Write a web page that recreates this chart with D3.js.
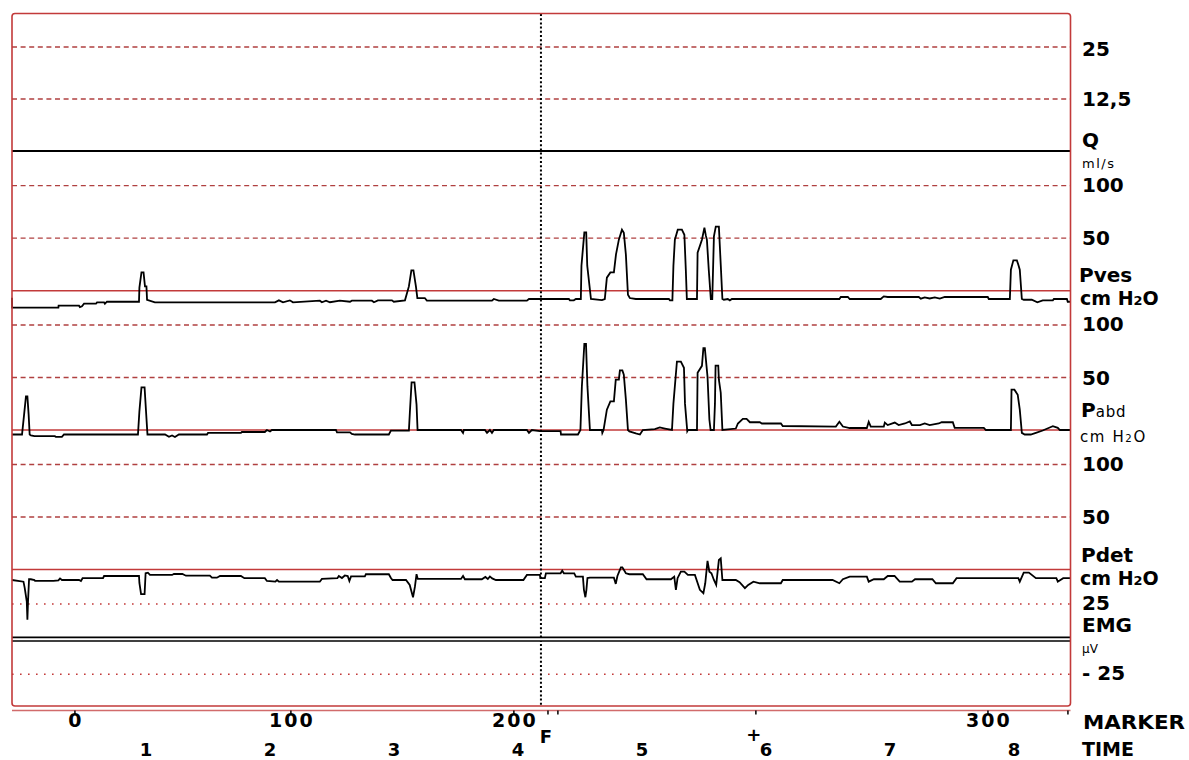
<!DOCTYPE html>
<html>
<head>
<meta charset="utf-8">
<script src="https://cdn.jsdelivr.net/npm/d3@7"></script>
<style>
  body { margin: 0; background: #fff; }
  svg { display: block; }
  text { font-family: "DejaVu Sans", "Liberation Sans", sans-serif; fill: #000; }
</style>
</head>
<body>
<svg id="chart" width="1189" height="760"></svg>
<script>
// ---- recorded traces: [time in s, value] ----
// Q (ml/s): no flow during the whole recording
const qTrace = [[-4.35, 0], [507.6, 0]];

// Pves (cm H2O)
const pvesTrace = [[-4.35,-6.7],[-4.3,-16.2],[18.1,-16.2],[18.2,-14.3],[28.1,-14.3],[28.5,-15.7],[29.5,-14.8],[30.5,-12.4],[36.3,-12.4],[36.8,-11.1],[40.2,-11.1],[40.6,-12.4],[41.6,-10.5],[57.1,-10.5],[57.3,2.9],[58.3,17.4],[59.3,17.4],[60.0,4.1],[60.7,4.1],[61.0,-8.6],[64.8,-11.1],[122.9,-11.1],[124.8,-9.2],[126.8,-11.1],[130.1,-9.2],[131.6,-11.1],[144.6,-9.5],[145.6,-11],[147.6,-9.5],[149.5,-11],[154.3,-9.5],[159.2,-10.5],[160.1,-9.5],[169.8,-9.5],[170.8,-11],[172.7,-9.2],[179.5,-9.2],[180.4,-10.5],[185.8,-9.2],[187.7,4.1],[188.9,19.3],[189.9,19.3],[191.1,4.1],[191.8,-7],[195.4,-7],[196.4,-9.5],[227.9,-9.5],[228.8,-7.9],[231.2,-9.5],[244.8,-9.5],[245.8,-7.9],[265.1,-7.9],[265.6,-9.2],[267.5,-9.2],[268.5,-7.9],[270.9,-7.9],[271.2,23.8],[272.6,55.5],[273.5,55.5],[274.0,23.8],[275.8,-7.9],[281.1,-9],[282.5,-7.9],[283.5,12.4],[285.2,17.4],[286.9,17.4],[287.9,34.3],[289.3,48.6],[290.8,58.1],[291.7,55.2],[292.7,34.3],[293.7,-3.8],[294.6,-7],[297.5,-7.9],[313.5,-7.9],[314,-9.2],[315.2,-9.2],[315.7,23.8],[316.4,48.6],[317.8,58.1],[319.8,58.1],[321.0,53.3],[321.7,20],[322.2,-7.9],[327.1,-7.9],[327.4,36.2],[329.5,48.6],[330.7,60],[331.4,52.4],[331.9,48.6],[332.8,20],[333.8,-7.9],[334.5,-7.9],[335.3,51.7],[336.2,61],[337.7,61],[338.6,24.8],[339.4,-7.9],[340.1,-8.6],[342.0,-7.9],[343.0,-9.2],[344.0,-7.9],[396.0,-7.9],[396.7,-6],[400.1,-6],[401.0,-7.9],[416.0,-7.9],[417.5,-5.4],[419.4,-6],[434.4,-6],[435.4,-7.6],[437.3,-6.3],[439.7,-7.4],[442.2,-6.3],[444.6,-7.6],[447.0,-6],[467.8,-6],[468.3,-7.9],[478.5,-7.9],[479.0,20],[480.2,28.9],[481.9,28.9],[482.6,24.8],[483.3,20],[484.3,-7.9],[485.2,-8.6],[489.1,-8.6],[491.8,-11.1],[494.4,-9.2],[499.3,-9.2],[499.8,-7.9],[506.1,-7.9],[506.5,-10.5],[507.6,-10.5]];

// Pabd (cm H2O)
const pabdTrace = [[-4.35,-4.3],[0.5,-4.3],[1.5,14.7],[2.4,32],[3.1,32],[3.7,14.7],[4.2,-4.3],[4.8,-5.2],[6.5,-5.9],[16.4,-5.9],[16.9,-6.6],[19.8,-6.6],[20.8,-4.3],[56.6,-4.3],[57.3,17.8],[58.3,40.6],[59.8,40.6],[60.5,17.8],[61.2,-4.3],[69.7,-4.3],[71.6,-6.4],[73.1,-5.2],[74.5,-6.6],[76.4,-4.3],[90.0,-4.3],[90.5,-2.8],[106.4,-2.8],[106.9,-1.9],[118.0,-1.9],[119.0,0],[120.5,-1.4],[121.4,0],[152.4,0],[152.9,-2.2],[159.2,-2.2],[160.1,-3.8],[161.6,-4.3],[178.0,-4.3],[179.0,-0.5],[187.7,-0.5],[188.2,17.8],[189.0,45.3],[190.4,45.3],[191.4,24.2],[191.9,0],[212.9,0],[213.9,-2.8],[214.3,0],[224.5,0],[225.5,-2.8],[226.9,0],[227.9,-2.8],[228.8,0],[244.8,0],[245.8,-2.8],[247.2,0],[251.1,-1.1],[261.1,-1.1],[261.3,-4.3],[269.5,-4.3],[270.7,0],[271.4,41.5],[272.6,82],[273.4,82],[274.1,41.5],[275.3,0],[281.1,0],[281.3,-2.8],[281.9,0],[283.5,19.4],[285.2,27.3],[286.9,27.3],[287.8,47.9],[289.3,47.9],[289.8,56.7],[291.0,56.7],[291.7,52.6],[292.7,28.9],[293.7,0],[294.4,-1.4],[297.5,-3.3],[299.5,-4.3],[300.9,0],[306.7,0.9],[309.1,2.4],[311.6,1.4],[315,0],[315.7,25.1],[317.4,65.2],[319.3,65.2],[320.8,59.2],[321.3,25.1],[322.4,-1.1],[322.7,0],[327.1,0],[327.4,54.5],[329.5,61.1],[330.2,77.9],[330.9,77.9],[332.2,50.7],[333.1,10],[333.7,0],[335.3,0],[335.8,25.1],[336.1,61.4],[337.4,61.4],[337.7,47.9],[338.6,35.5],[339.4,0],[345.9,1.4],[346.9,6.2],[349.3,10.6],[351.1,10.6],[352.7,7.4],[357.5,7.4],[358.5,6.2],[367.7,6.2],[368.6,3.8],[394.3,3.3],[396.0,7.8],[397.7,3.3],[401.0,1.9],[409.3,1.9],[410.2,7.8],[411.2,3.3],[417.5,3.3],[418.0,7.1],[419.4,4.7],[422.8,7.1],[424.7,4.7],[427.7,6.2],[430.1,8.1],[431.1,4.7],[435.0,4.7],[437.3,6.2],[439.7,4.7],[444.1,6.2],[445.5,7.4],[450.9,7.4],[451.8,2.1],[465.9,2.1],[466.9,0],[479.0,0],[479.3,38.4],[480.7,38.4],[482.3,33.6],[483.3,19.4],[484.3,-2.7],[485.7,-4.3],[488.6,-4.3],[491.1,-2.7],[494.4,-0.5],[497.8,2.4],[499.3,3.6],[501.7,2.1],[502.7,0],[507.6,0]];

// Pdet (cm H2O)
const pdetTrace = [[-4.35,-10],[1.2,-11.6],[1.8,-17.5],[2.8,-30.5],[3.1,-47.9],[3.4,-30.5],[3.9,-9.3],[4.8,-9.3],[6.5,-10],[6.8,-10.9],[15.7,-10.9],[18.1,-10.4],[18.9,-8.5],[19.8,-10],[28.1,-10],[29.0,-10.9],[29.8,-8.3],[39.7,-8.3],[40.2,-6.2],[57.1,-6.2],[57.3,-12.8],[58.1,-23.5],[59.8,-23.5],[60.3,-3.6],[61.4,-3],[62.4,-5.2],[73.1,-5.2],[74.0,-4.3],[78.1,-4.3],[79.8,-5.9],[91.4,-5.9],[92.4,-7.8],[94.8,-7.8],[96.3,-6.2],[106.4,-6.2],[108.1,-8.3],[118.0,-8.3],[119.0,-10.9],[123.1,-11.6],[123.9,-10],[124.8,-11.6],[144.6,-11.6],[145.6,-9],[153.1,-8.3],[153.8,-6.2],[155.3,-8.1],[156.7,-5.7],[158.1,-6.2],[158.9,-10.9],[159.7,-6.6],[166.4,-6.6],[166.9,-4.5],[178.0,-4.5],[179.0,-8.1],[179.8,-10],[186.3,-10],[188.1,-14.7],[189.7,-26.4],[190.6,-16.6],[191.4,-4.5],[192.0,-9],[212.9,-9],[213.9,-6.2],[214.8,-9.3],[223.0,-9.3],[224.7,-7.1],[225.9,-9],[226.9,-6.6],[228.0,-8.5],[229.8,-10],[243.1,-10],[244.8,-5.2],[251.1,-5.2],[251.3,-8.3],[253.5,-8.3],[254.0,-3.6],[261.1,-3.6],[261.9,-1.1],[262.7,-3.6],[267.7,-3.6],[268.5,-6.8],[271.9,-6.8],[272.4,-19.4],[273.1,-26.4],[273.6,-19.4],[274.1,-8.1],[275.3,-7.8],[286.9,-7.8],[287.8,-13.7],[288.6,-6.2],[290.3,2.1],[291.0,2.1],[292.7,-3.6],[294.4,-4.5],[300.9,-4.5],[302.7,-9.3],[314.5,-9.3],[316.1,-6.8],[316.9,-19.4],[317.7,-8.3],[319.3,-2.1],[321.0,-2.1],[322.7,-5.2],[326.1,-5.2],[328.5,-19.4],[330.2,-22.6],[331.1,-13.1],[332.2,8.3],[333.1,-2.1],[334.1,-3.6],[335.3,-10],[336.4,-14.7],[337.7,9],[338.6,10.6],[339.4,-10],[345.9,-10],[347.7,-12.1],[350.3,-17.8],[351.9,-14.7],[354.4,-11.6],[357.5,-13.1],[367.7,-13.1],[368.6,-10],[392.7,-10],[396.0,-13.1],[397.7,-9.3],[401.0,-6.8],[409.3,-6.8],[410.2,-11.6],[412.7,-9.3],[417.5,-9.3],[419.4,-6.2],[422.7,-6.2],[425.2,-11.6],[431.1,-11.6],[432.6,-9.3],[441.0,-9.3],[442.7,-13.1],[450.9,-13.1],[452.7,-8.3],[482.6,-8.3],[483.3,-11.6],[485.2,-3],[487.7,-3],[491.1,-8.3],[501.0,-8.3],[501.7,-11.6],[504.3,-8.3],[507.6,-8.3]];

// EMG (µV): flat signal
const emgTrace = [[-4.35, 0], [507.6, 0]];

// ---- axis labels ----
const qTickValues = [25, 12.5];
const qTickLabels = ["25", "12,5"];
const pressureTickValues = [100, 50];
const pressureTickLabels = ["100", "50"];
const emgTickValues = [25, -25];
const emgTickLabels = ["25", "- 25"];

// filled volume (ml) at the time it was reached
const markerVolumes = ["0", "100", "200", "300"];
const markerVolumeTimes = [26.1, 130.6, 238.5, 467.9];
// event markers
const eventLabels = ["F", "+"];
const eventTimes = [255.0, 355.6];
const extraMarkTimes = [259.8, 506.6];
// filling stopped
const cursorTime = [251.6];
// time axis (minutes)
const timeMinutes = [1, 2, 3, 4, 5, 6, 7, 8];

// ---- drawing ----
const svg = d3.select("#chart");
const RED = "#c23a3a";
const GRID = "#b04040";

const x = d3.scaleLinear().domain([-4.35, 507.6]).range([12, 1070]);
const yQ    = d3.scaleLinear().domain([0, 25]).range([151, 47]);
const yPves = d3.scaleLinear().domain([0, 100]).range([290.7, 185.7]);
const yPabd = d3.scaleLinear().domain([0, 100]).range([430, 325]);
const yPdet = d3.scaleLinear().domain([0, 100]).range([569.5, 464.5]);
const yEmg  = d3.scaleLinear().domain([-25, 25]).range([674.3, 604]);

const x0 = x.range()[0], x1 = x.range()[1];

function hline(y, stroke, width, dash) {
  const l = svg.append("line")
    .attr("x1", x0).attr("x2", x1).attr("y1", y).attr("y2", y)
    .attr("stroke", stroke).attr("stroke-width", width);
  if (dash) l.attr("stroke-dasharray", dash);
  return l;
}

// dashed scale lines
qTickValues.forEach(v => hline(yQ(v), GRID, 1.3, "5,3.6"));
[yPves, yPabd, yPdet].forEach(s => pressureTickValues.forEach(v => hline(s(v), GRID, 1.3, "5,3.6")));
// dotted EMG scale lines
emgTickValues.forEach(v => hline(yEmg(v), RED, 1.6, "1.6,6.4"));
// pressure zero lines
[yPves, yPabd, yPdet].forEach(s => hline(s(0), RED, 1.6));

// cursor line at end of filling
svg.selectAll(".cursor").data(cursorTime).enter().append("line")
  .attr("x1", d => x(d)).attr("x2", d => x(d))
  .attr("y1", 14).attr("y2", 706)
  .attr("stroke", "#000").attr("stroke-width", 2).attr("stroke-dasharray", "2,2.2");

// traces
function trace(data, yScale) {
  return svg.append("path")
    .datum(data)
    .attr("fill", "none")
    .attr("stroke", "#000")
    .attr("stroke-width", 1.8)
    .attr("stroke-linejoin", "miter")
    .attr("d", d3.line().x(d => x(d[0])).y(d => yScale(d[1])));
}
trace(qTrace, yQ).attr("stroke-width", 2);
trace(pvesTrace, yPves);
trace(pabdTrace, yPabd);
trace(pdetTrace, yPdet);
// EMG drawn as a double line
trace(emgTrace, yEmg).attr("stroke-width", 5.4);
trace(emgTrace, yEmg).attr("stroke", "#fff").attr("stroke-width", 2);

// frame
svg.append("rect")
  .attr("x", 12).attr("y", 13.5).attr("width", 1058.5).attr("height", 692.5)
  .attr("rx", 3).attr("fill", "none").attr("stroke", RED).attr("stroke-width", 1.6);
// marker axis line
svg.append("line")
  .attr("x1", 12).attr("x2", 1070.5).attr("y1", 710.5).attr("y2", 710.5)
  .attr("stroke", RED).attr("stroke-width", 1.4).attr("opacity", 0.75);

// marker ticks
const allMarks = markerVolumeTimes.concat(eventTimes, extraMarkTimes);
svg.selectAll(".mtick").data(allMarks).enter().append("line")
  .attr("x1", d => x(d)).attr("x2", d => x(d))
  .attr("y1", 710.5).attr("y2", 714.5)
  .attr("stroke", "#000").attr("stroke-width", 1.5);

// marker volume labels
svg.selectAll(".mlab").data(markerVolumes).enter().append("text")
  .attr("x", (d, i) => x(markerVolumeTimes[i]) + 1)
  .attr("y", 727)
  .attr("text-anchor", "middle")
  .attr("font-size", 19).attr("font-weight", "bold")
  .attr("letter-spacing", 2)
  .text(d => d);

// event labels
svg.selectAll(".elab").data(eventLabels).enter().append("text")
  .attr("x", (d, i) => x(eventTimes[i]) - 2)
  .attr("y", (d, i) => i === 0 ? 743 : 741)
  .attr("text-anchor", "middle")
  .attr("font-size", 18).attr("font-weight", "bold")
  .text(d => d);

// time labels
svg.selectAll(".tlab").data(timeMinutes).enter().append("text")
  .attr("x", d => x(d * 60) + 1)
  .attr("y", 756)
  .attr("text-anchor", "middle")
  .attr("font-size", 18).attr("font-weight", "bold")
  .text(d => d);

// right-hand scale labels
const LX = 1082;
function label(txt, y, opts = {}) {
  const t = svg.append("text")
    .attr("x", opts.x || LX).attr("y", y)
    .attr("font-size", opts.size || 20)
    .attr("font-weight", opts.weight || "bold")
    .text(txt);
  if (opts.ls) t.attr("letter-spacing", opts.ls);
  return t;
}
qTickValues.forEach((v, i) => label(qTickLabels[i], yQ(v) + (i === 0 ? 8.5 : 7)));
[yPves, yPabd, yPdet].forEach(s => pressureTickValues.forEach((v, i) => label(pressureTickLabels[i], s(v) + (i === 0 ? 6 : 7))));
label(emgTickLabels[0], yEmg(25) + 6);
label(emgTickLabels[1], yEmg(-25) + 6);

label("Q", 147);
label("ml/s", 168, { size: 13, weight: "normal", ls: 1.5 });

function unitLabel(y, weight, size, ls) {
  const t = svg.append("text").attr("x", 1080).attr("y", y)
    .attr("font-size", size).attr("font-weight", weight);
  if (ls) t.attr("letter-spacing", ls);
  t.append("tspan").text("cm H");
  t.append("tspan").attr("font-size", size * 0.68).text("2");
  t.append("tspan").text("O");
  return t;
}
label("Pves", 282, { x: 1079 });
unitLabel(305, "bold", 19);

const pabd = svg.append("text").attr("x", 1081).attr("y", 417);
pabd.append("tspan").attr("font-size", 20).attr("font-weight", "bold").text("P");
pabd.append("tspan").attr("font-size", 15).attr("letter-spacing", 0.8).text("abd");
unitLabel(442, "normal", 15, 1.6);

label("Pdet", 562, { x: 1081 });
unitLabel(585, "bold", 19);

label("EMG", 632);
label("µV", 653, { size: 12, weight: "normal" });

label("MARKER", 729, { x: 1083, size: 19 }).attr("textLength", 102).attr("lengthAdjust", "spacingAndGlyphs");
label("TIME", 756, { x: 1082, size: 19 });
</script>
</body>
</html>
